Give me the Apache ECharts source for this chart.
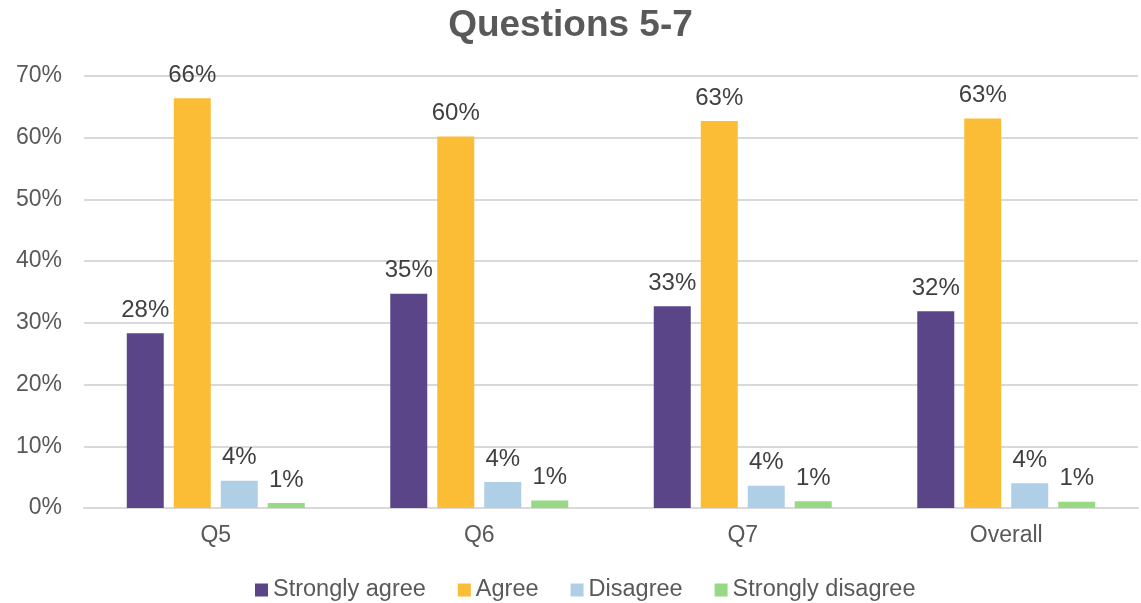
<!DOCTYPE html>
<html>
<head>
<meta charset="utf-8">
<script src="https://cdn.jsdelivr.net/npm/echarts@6/dist/echarts.min.js"></script>
<style>
  html, body { margin: 0; padding: 0; background: #ffffff; }
  #chart { width: 1141px; height: 603px; }
</style>
</head>
<body>
<div id="chart"></div>
<script>
// Survey responses per question, as percentages
const categories = ['Q5', 'Q6', 'Q7', 'Overall'];
const seriesNames = ['Strongly agree', 'Agree', 'Disagree', 'Strongly disagree'];
const stronglyAgree = [28.3, 34.7, 32.7, 31.9];
const agree = [66.4, 60.2, 62.7, 63.1];
const disagree = [4.4, 4.2, 3.6, 4.0];
const stronglyDisagree = [0.8, 1.2, 1.1, 1.0];
const yTicks = [0, 10, 20, 30, 40, 50, 60, 70];

const colors = ['#5B4589', '#FBBD36', '#AFCFE6', '#97D985'];
const font = '"Liberation Sans", Arial, sans-serif';

function makeSeries(name, data, color) {
  return {
    name: name,
    type: 'bar',
    data: data,
    barWidth: 37,
    barGap: '27%',
    itemStyle: { color: color },
    label: {
      show: true,
      position: 'top',
      distance: 11,
      color: '#404040',
      fontFamily: font,
      fontSize: 24,
      formatter: p => Math.round(p.value) + '%'
    }
  };
}

const chart = echarts.init(document.getElementById('chart'));
chart.setOption({
  animation: false,
  backgroundColor: '#ffffff',
  color: colors,
  title: {
    text: 'Questions 5-7',
    left: 'center',
    top: 2,
    textStyle: { color: '#595959', fontFamily: font, fontSize: 37, fontWeight: 'bold' }
  },
  legend: {
    data: seriesNames,
    top: 573,
    left: 250,
    itemWidth: 13,
    itemHeight: 13,
    itemGap: 32,
    icon: 'rect',
    textStyle: { color: '#595959', fontFamily: font, fontSize: 23.5 }
  },
  grid: { left: 84, right: 3, top: 76, bottom: 95 },
  xAxis: {
    type: 'category',
    data: categories,
    axisTick: { show: false },
    axisLine: { lineStyle: { color: '#D9D9D9', width: 2 } },
    axisLabel: { color: '#595959', fontFamily: font, fontSize: 23, margin: 16 }
  },
  yAxis: {
    type: 'value',
    min: yTicks[0],
    max: yTicks[yTicks.length - 1],
    interval: 10,
    axisLine: { show: false },
    axisTick: { show: false },
    splitLine: { lineStyle: { color: '#D9D9D9', width: 2 } },
    axisLabel: { color: '#595959', fontFamily: font, fontSize: 23, margin: 22, formatter: v => v + '%' }
  },
  series: [
    makeSeries(seriesNames[0], stronglyAgree, colors[0]),
    makeSeries(seriesNames[1], agree, colors[1]),
    makeSeries(seriesNames[2], disagree, colors[2]),
    makeSeries(seriesNames[3], stronglyDisagree, colors[3])
  ]
});
</script>
</body>
</html>
